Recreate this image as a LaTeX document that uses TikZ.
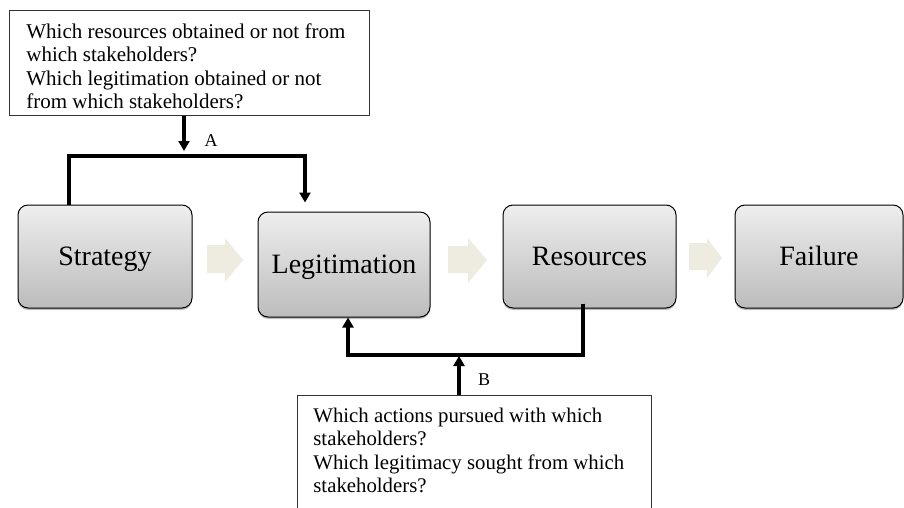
\documentclass[tikz,border=0pt]{standalone}
\usepackage{fontspec}
\setmainfont{Liberation Serif}
\usetikzlibrary{arrows.meta,shadows,calc}
\definecolor{boxtop}{RGB}{238,238,238}
\definecolor{boxbot}{RGB}{188,188,188}
\definecolor{flow}{RGB}{238,236,225}
\tikzset{
  stage/.style={draw=black, line width=1pt, rounded corners=10pt,
    top color=boxtop, bottom color=boxbot, inner sep=0pt,
    text height=18.5pt, text depth=0pt, font=\fontsize{28}{30}\selectfont,
    drop shadow={shadow xshift=0pt, shadow yshift=-2pt, opacity=0.25, fill=black}},
  question/.style={draw=black!80, line width=0.8pt, anchor=north west, align=flush left,
    inner ysep=0pt, inner xsep=17pt, font=\fontsize{21}{23.5}\selectfont},
  link/.style={line width=3.5pt},
  linkarrow/.style={link, -{Triangle[width=11pt,length=10pt]}},
  tag/.style={font=\fontsize{18}{20}\selectfont, inner sep=0pt},
  flowarrow/.style={fill=flow, draw=none}
}
\begin{document}
\begin{tikzpicture}[x=1pt,y=-1pt]
\useasboundingbox (0,0) rectangle (904,508);
\clip (0,0) rectangle (904,508);
\fill[white] (0,0) rectangle (904,508);

% question boxes
\node[question, text width=326pt] (qa) at (9,10)
  {\rule{0pt}{28pt}Which resources obtained or not from\\
   which stakeholders?\\
   Which legitimation obtained or not\\
   from which stakeholders?\rule[-6.5pt]{0pt}{0pt}};
\node[question, text width=322pt, inner xsep=16pt, font=\fontsize{20.8}{23.5}\selectfont] (qb) at (297,395)
  {\rule{0pt}{27pt}Which actions pursued with which\\
   stakeholders?\\
   Which legitimacy sought from which\\
   stakeholders?\rule[-30pt]{0pt}{0pt}};

% stage boxes
\node[stage, minimum width=174pt, minimum height=103pt] (strat) at (105,256.5) {Strategy};
\node[stage, minimum width=172pt, minimum height=105pt] (legit) at (344,264.5) {Legitimation};
\node[stage, minimum width=173pt, minimum height=103pt] (res) at (589.5,256.5) {Resources};
\node[stage, minimum width=168pt, minimum height=103pt] (fail) at (819,256.5) {Failure};

% flow arrows
\fill[flowarrow] (207,245) -- (225,245) -- (225,238) -- (243,260) -- (225,282) -- (225,273) -- (207,273) -- cycle;
\fill[flowarrow] (448,246) -- (468,246) -- (468,238) -- (487,260) -- (468,283) -- (468,273) -- (448,273) -- cycle;
\fill[flowarrow] (689,243) -- (707,243) -- (707,238) -- (722,258) -- (707,278) -- (707,270) -- (689,270) -- cycle;

% connector A
\coordinate (aA) at (184,151);
\draw[linkarrow] (qa.south -| aA) -- (aA);
\node[tag] (tA) at (211,141) {A};
\coordinate (jA1) at (69,156);
\coordinate (jA2) at (305,156);
\draw[linkarrow] (strat.north -| jA1) -- (jA1) -- (jA2) -- ($(legit.north -| jA2)+(0,-9)$);

% connector B
\coordinate (jB1) at (348,355);
\coordinate (jB2) at (583,355);
\draw[linkarrow] ($(res.south -| jB2)+(0,-5)$) -- (jB2) -- (jB1) -- (legit.south -| jB1);
\coordinate (aB) at (459,356);
\draw[linkarrow] (qb.north -| aB) -- (aB);
\node[tag] (tB) at (484,380) {B};
\end{tikzpicture}
\end{document}
